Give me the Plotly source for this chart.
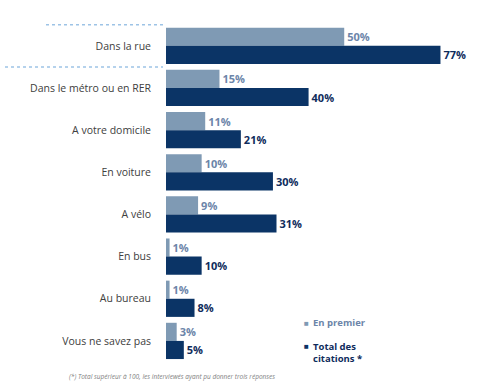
import plotly.graph_objects as go

categories = ["Dans la rue", "Dans le métro ou en RER", "A votre domicile", "En voiture",
              "A vélo", "En bus", "Au bureau", "Vous ne savez pas"]
en_premier = [50, 15, 11, 10, 9, 1, 1, 3]
total_citations = [77, 40, 21, 30, 31, 10, 8, 5]
series_names = ["En premier", "Total des<br>citations *"]

LIGHT = "#7f9ab4"
DARK = "#0b3466"
LIGHT_TXT = "#6c85a9"
DARK_TXT = "#0f2c5c"

fig = go.Figure()
fig.add_trace(go.Bar(
    y=categories, x=en_premier, orientation="h", name=series_names[0],
    marker=dict(color=LIGHT, line=dict(width=0)),
    text=["<b>%d%%</b>" % v for v in en_premier], textposition="outside",
    textfont=dict(color=LIGHT_TXT, size=11, family="Open Sans"),
    cliponaxis=False,
))
fig.add_trace(go.Bar(
    y=categories, x=total_citations, orientation="h", name=series_names[1],
    marker=dict(color=DARK, line=dict(width=0)),
    text=["<b>%d%%</b>" % v for v in total_citations], textposition="outside",
    textfont=dict(color=DARK_TXT, size=11, family="Open Sans"),
    cliponaxis=False,
))

W, H, L, T, B = 500, 386, 166, 24, 24
def px(x):
    return (x - L) / (W - L)
def py(y):
    return (H - B - y) / (H - T - B)

fig.update_layout(
    width=W, height=H,
    margin=dict(l=L, r=0, t=T, b=B, autoexpand=False),
    barmode="group", bargap=0.14, bargroupgap=0.0,
    plot_bgcolor="white", paper_bgcolor="white",
    font=dict(family="Open Sans", size=11, color="#404040"),
    showlegend=False,
    xaxis=dict(range=[0, 93.7], visible=False, automargin=False),
    yaxis=dict(autorange="reversed", showline=False, showgrid=False, ticks="",
               automargin=False,
               ticklabelstandoff=14, tickfont=dict(size=10.5, color="#404040")),
)

for yv, x0 in [(-0.5, px(46)), (0.5, px(5))]:
    fig.add_shape(type="line", xref="paper", yref="y", x0=x0, x1=px(163), y0=yv, y1=yv,
                  line=dict(color="#9dc3e6", width=1.5, dash="dot"))

# legend (drawn as text)
fig.add_annotation(xref="paper", yref="paper", x=px(302), y=py(322), xanchor="left", yanchor="middle",
                   text="■", showarrow=False, font=dict(size=8, color=LIGHT))
fig.add_annotation(xref="paper", yref="paper", x=px(311), y=py(322), xanchor="left", yanchor="middle",
                   text="<b>%s</b>" % series_names[0], showarrow=False,
                   font=dict(size=9.5, color=LIGHT_TXT))
fig.add_annotation(xref="paper", yref="paper", x=px(302), y=py(345), xanchor="left", yanchor="middle",
                   text="■", showarrow=False, font=dict(size=8, color=DARK))
fig.add_annotation(xref="paper", yref="paper", x=px(311), y=py(338), xanchor="left", yanchor="top",
                   align="left", text="<b>%s</b>" % series_names[1], showarrow=False,
                   font=dict(size=9.5, color=DARK_TXT))

fig.add_annotation(xref="paper", yref="paper", x=px(67), y=py(377), xanchor="left", yanchor="middle",
                   text="<i>(*) Total supérieur à 100, les interviewés ayant pu donner trois réponses</i>",
                   showarrow=False, font=dict(size=6.5, color="#7f7f7f", family="Open Sans"))

fig.write_html("out.html", config={"displayModeBar": False},
               post_script="document.body.style.margin='0';document.body.style.overflow='hidden';")
